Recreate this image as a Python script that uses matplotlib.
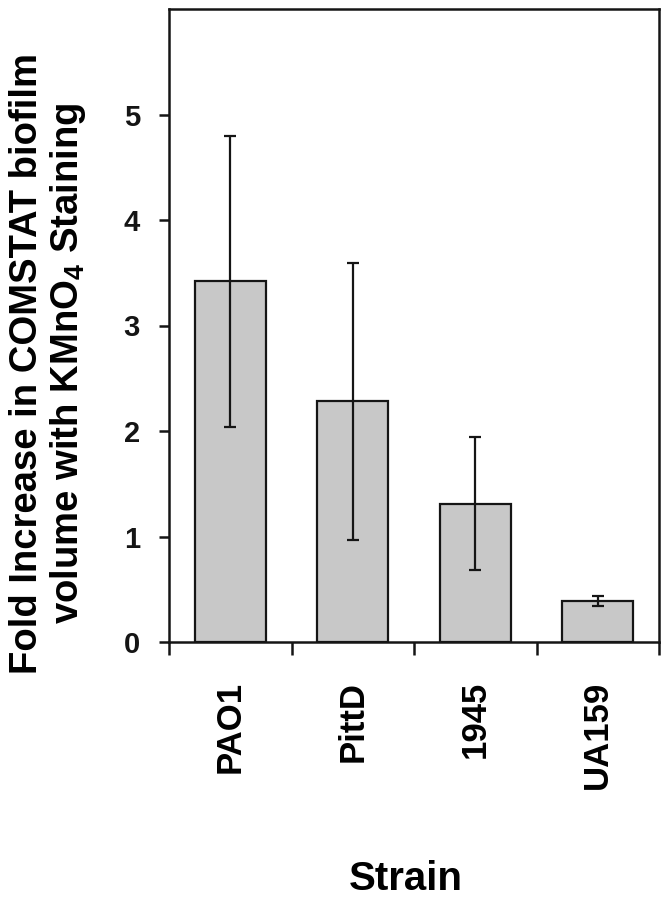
import matplotlib
matplotlib.use("Agg")
import matplotlib.pyplot as plt
import numpy as np

strains = ["PAO1", "PittD", "1945", "UA159"]
fold_increase = [3.42, 2.28, 1.31, 0.39]
errors = [1.38, 1.31, 0.63, 0.05]
yticks = [0, 1, 2, 3, 4, 5]

plt.rcParams['font.family'] = ['Liberation Sans', 'DejaVu Sans']
plt.rcParams['font.weight'] = 'bold'
plt.rcParams['mathtext.fontset'] = 'custom'
plt.rcParams['mathtext.rm'] = 'Liberation Sans:bold'
plt.rcParams['mathtext.default'] = 'rm'

fig = plt.figure(figsize=(6.71, 8.99), dpi=100)
ax = fig.add_axes([169/671, 1-642/899, 490/671, 633/899])

x = np.arange(len(strains))
ax.bar(x, fold_increase, width=0.58, color='#c8c8c8', edgecolor='#151515', linewidth=1.6,
       yerr=errors, error_kw=dict(ecolor='#151515', elinewidth=1.6, capsize=4, capthick=1.6))

ax.set_xlim(-0.5, len(strains) - 0.5)
ax.set_ylim(0, 6)
ax.set_yticks(yticks)
ax.set_yticklabels([str(t) for t in yticks], fontsize=21, fontweight='bold')
ax.tick_params(axis='y', direction='out', length=7, width=1.8, pad=14, colors='#151515')

ax.set_xticks(np.arange(-0.5, len(strains) + 0.5, 1.0))
ax.set_xticklabels([])
ax.tick_params(axis='x', direction='out', length=9, width=1.8, colors='#151515')
ax.set_xticks(x, minor=True)
ax.set_xticklabels(strains, minor=True, rotation=90, fontsize=25, fontweight='bold')
ax.tick_params(axis='x', which='minor', length=0, pad=28)

for s in ax.spines.values():
    s.set_linewidth(1.8)
    s.set_color('#151515')

ax.set_ylabel("Fold Increase in COMSTAT biofilm\nvolume with KMnO$_4$ Staining",
              fontsize=27.5, fontweight='bold', linespacing=1.1)
ax.yaxis.set_label_coords(-0.165, 0.44)
ax.set_xlabel("Strain", fontsize=29, fontweight='bold')
ax.xaxis.set_label_coords(0.484, -0.3445)

fig.savefig("out.png", dpi=100)
